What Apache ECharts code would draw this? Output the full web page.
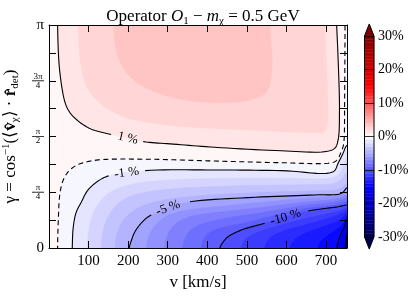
<!DOCTYPE html>
<html><head><meta charset="utf-8">
<script src="https://cdn.jsdelivr.net/npm/echarts@6/dist/echarts.min.js"></script>
<style>html,body{margin:0;padding:0;background:#fff}#c{width:417px;height:298px}</style>
</head><body><div id="c"></div>
<script>
// ---------------- data ----------------
// x: v [km/s], y: gamma / pi
const vMax = 753;
const yTickValues = [0, 0.25, 0.5, 0.75, 1];
const yTickLabels = ['0', 'π/4', 'π/2', '3π/4', 'π'];
const cbarTicks = [-30, -20, -10, 0, 10, 20, 30];

// superlevel curves (region above/inside is > level), level in %
const contour_p1 = [[21.7,1],[26.8,0.798],[41.2,0.649],[53.8,0.605],[70.7,0.574],[91.7,0.547],[112.6,0.529],[162.4,0.507],[238,0.477],[314,0.466],[419,0.4516],[587,0.436],[697,0.432],[722,0.447],[730.5,0.484],[734,0.619],[730,0.873],[727,1]];
const contour_p2 = [[74.7,1],[79,0.843],[96,0.723],[129.5,0.649],[188.4,0.589],[298,0.552],[508,0.529],[660,0.518],[695,0.52],[703,0.55],[704,0.7],[700,0.873],[697,1]];
const contour_p3 = [[163,1],[171.7,0.873],[197,0.783],[239,0.723],[323,0.671],[424,0.652],[508,0.664],[550,0.701],[563,0.798],[560.5,0.948],[559,1]];

// sublevel curves (region below/right is < level)
const contour_0   = [[21.7,0],[23.5,0.1256],[27.8,0.2466],[36.1,0.305],[48.7,0.342],[66.4,0.368],[82.3,0.380],[124.5,0.395],[250.7,0.398],[419,0.390],[587,0.3825],[705,0.380],[723,0.388],[730.5,0.402],[738,0.430],[743,0.454],[745.6,0.484],[747,0.664],[748,1]];
const contour_m1  = [[58.8,0],[61.4,0.0955],[68.9,0.161],[82.3,0.208],[96.7,0.256],[116,0.290],[137,0.314],[158,0.327],[243,0.347],[419,0.350],[587,0.347],[718,0.342],[730.5,0.380],[743,0.425],[753,0.46]];
const contour_m2  = [[97,0],[99,0.06],[105,0.12],[118,0.18],[140,0.23],[170,0.265],[220,0.29],[300,0.305],[450,0.313],[600,0.313],[700,0.312],[728,0.325],[742,0.36],[753,0.4]];
const contour_m3  = [[132,0],[134,0.05],[140,0.1],[152,0.15],[172,0.195],[200,0.228],[250,0.252],[350,0.27],[500,0.28],[650,0.284],[720,0.29],[740,0.31],[753,0.34]];
const contour_m4  = [[167,0],[170,0.05],[177,0.09],[190,0.13],[212,0.165],[245,0.195],[300,0.218],[400,0.237],[550,0.25],[680,0.257],[735,0.265],[753,0.29]];
const contour_m5  = [[202.8,0],[208.6,0.0359],[215.4,0.0673],[225.5,0.0955],[238,0.121],[250.7,0.140],[281,0.166],[343.4,0.203],[503,0.226],[671.6,0.238],[739,0.245],[753,0.27]];
const contour_m6  = [[246,0],[250,0.04],[260,0.08],[278,0.12],[305,0.15],[350,0.17],[450,0.19],[550,0.207],[650,0.222],[720,0.232],[753,0.247]];
const contour_m7  = [[292,0],[296,0.04],[306,0.08],[325,0.115],[355,0.14],[400,0.155],[450,0.165],[550,0.185],[650,0.207],[720,0.218],[753,0.234]];
const contour_m8  = [[338,0],[343,0.04],[355,0.075],[375,0.1],[410,0.12],[450,0.135],[550,0.162],[650,0.193],[720,0.205],[753,0.221]];
const contour_m9  = [[385,0],[390,0.035],[402,0.065],[425,0.085],[450,0.097],[500,0.115],[550,0.138],[650,0.178],[720,0.192],[753,0.207]];
const contour_m10 = [[431.8,0],[440,0.027],[452.6,0.0507],[486,0.0807],[545,0.111],[646,0.163],[730.5,0.185],[753,0.193]];
const contour_m11 = [[485,0],[490,0.025],[500,0.045],[520,0.065],[560,0.09],[620,0.12],[680,0.145],[730,0.165],[753,0.18]];
const contour_m12 = [[545,0],[550,0.025],[562,0.05],[590,0.075],[640,0.1],[690,0.125],[730,0.148],[753,0.168]];
const contour_m13 = [[610,0],[615,0.025],[630,0.05],[660,0.075],[700,0.1],[735,0.125],[753,0.155]];
const contour_m14 = [[680,0],[685,0.025],[700,0.05],[720,0.075],[740,0.1],[753,0.14]];
const contour_m15 = [[728,0],[731,0.03],[737,0.06],[745,0.09],[753,0.125]];
const contour_m16 = [[738,0],[741,0.04],[747,0.08],[753,0.11]];
const contour_m17 = [[743,0],[745,0.04],[749,0.075],[753,0.095]];
const contour_m18 = [[746,0],[748,0.035],[753,0.08]];
const contour_m20 = [[749,0],[751,0.03],[753,0.06]];
const contour_m25 = [[751,0],[752,0.02],[753,0.04]];

const labelTexts = ['1 %', '-1 %', '-5 %', '-10 %'];
const labelV = [199, 196, 301, 598];
const labelG = [0.492, 0.337, 0.179, 0.138];

// ---------------- build ----------------
const FONT = '"Liberation Serif", "Times New Roman", serif';
function seismic(t){
  const st=[[0,0,0,76.5],[0.25,0,0,255],[0.5,255,255,255],[0.75,255,0,0],[1,127.5,0,0]];
  t=Math.max(0,Math.min(1,t));
  for(let i=0;i<4;i++){
    if(t<=st[i+1][0]){
      const a=st[i],b=st[i+1],u=(t-a[0])/(b[0]-a[0]);
      return 'rgb('+[1,2,3].map(k=>Math.round(a[k]+(b[k]-a[k])*u)).join(',')+')';
    }
  }
  return 'rgb(127,0,0)';
}
function bandColor(lo,hi){ return seismic(((lo+hi)/2+30)/60); }

const fills = [{bg:true, lo:0, hi:1}];
[[1,contour_p1],[2,contour_p2],[3,contour_p3]].forEach(([L,p])=>fills.push({pts:p, lo:L, hi:L+1, kind:'pos'}));
[[0,contour_0],[-1,contour_m1],[-2,contour_m2],[-3,contour_m3],[-4,contour_m4],[-5,contour_m5],[-6,contour_m6],[-7,contour_m7],[-8,contour_m8],[-9,contour_m9],[-10,contour_m10],[-11,contour_m11],[-12,contour_m12],[-13,contour_m13],[-14,contour_m14],[-15,contour_m15],[-16,contour_m16],[-17,contour_m17],[-18,contour_m18],[-20,contour_m20],[-25,contour_m25]]
  .forEach(([L,p])=>fills.push({pts:p, lo:L-1, hi:L, kind:'neg'}));

const lines = [
  {pts:contour_p1, label:0},
  {pts:contour_0, dashed:true},
  {pts:contour_m1, label:1},
  {pts:contour_m5, label:2},
  {pts:contour_m10, label:3},
  {pts:contour_m15},
  {pts:contour_m20}
];

function edgeOut(p){
  if(p[1]<=0) return [p[0],-0.05];
  if(p[1]>=1) return [p[0],1.05];
  if(p[0]>=vMax) return [vMax+15,p[1]];
  return p;
}
function extend(pts){ const o=pts.slice(); o.unshift(edgeOut(pts[0])); o.push(edgeOut(pts[pts.length-1])); return o; }
function crSpline(P, seg){
  const out=[], n=P.length;
  const get=i=> i<0 ? [2*P[0][0]-P[1][0],2*P[0][1]-P[1][1]] : (i>=n ? [2*P[n-1][0]-P[n-2][0],2*P[n-1][1]-P[n-2][1]] : P[i]);
  const d=(a,b)=>Math.max(Math.pow(Math.hypot(b[0]-a[0],b[1]-a[1]),0.5),1e-3);
  for(let i=0;i<n-1;i++){
    const p0=get(i-1),p1=P[i],p2=P[i+1],p3=get(i+2);
    const t0=0,t1=t0+d(p0,p1),t2=t1+d(p1,p2),t3=t2+d(p2,p3);
    for(let k=0;k<seg;k++){
      const t=t1+(t2-t1)*k/seg;
      const L=(a,b,ta,tb)=>[(tb-t)/(tb-ta)*a[0]+(t-ta)/(tb-ta)*b[0],(tb-t)/(tb-ta)*a[1]+(t-ta)/(tb-ta)*b[1]];
      const A1=L(p0,p1,t0,t1),A2=L(p1,p2,t1,t2),A3=L(p2,p3,t2,t3);
      const B1=L(A1,A2,t0,t2),B2=L(A2,A3,t1,t3);
      out.push(L(B1,B2,t1,t2));
    }
  }
  out.push(P[n-1]);
  return out;
}

function renderFill(params, api){
  const f=fills[params.dataIndex];
  const cs=params.coordSys;
  const color=bandColor(f.lo,f.hi);
  if(f.bg) return {type:'rect', shape:{x:cs.x,y:cs.y,width:cs.width,height:cs.height}, style:{fill:color}};
  const d=crSpline(extend(f.pts).map(p=>api.coord(p)),10);
  const first=d[0], last=d[d.length-1];
  const top=cs.y-40, bot=cs.y+cs.height+40, right=cs.x+cs.width+40;
  if(f.kind==='pos'){ d.push([last[0],top],[first[0],top]); }
  else { if(f.pts[f.pts.length-1][1]>=1) d.push([right,top]); d.push([right,bot],[first[0],bot]); }
  return {type:'polygon', shape:{points:d}, style:{fill:color, stroke:color, lineWidth:0.5}};
}

function renderLine(params, api){
  const c=lines[params.dataIndex];
  const d=crSpline(extend(c.pts).map(p=>api.coord(p)),10);
  const children=[];
  let gc=null, r=0;
  if(c.label!=null){
    const txt=labelTexts[c.label];
    const lp=api.coord([labelV[c.label],labelG[c.label]]);
    let bi=0,bd=1e9;
    d.forEach((q,i)=>{const dd=Math.hypot(q[0]-lp[0],q[1]-lp[1]); if(dd<bd){bd=dd;bi=i;}});
    const a=d[Math.max(0,bi-4)], b=d[Math.min(d.length-1,bi+4)];
    const rot=-Math.atan2(b[1]-a[1],b[0]-a[0]);
    gc=lp; r=txt.length*3+6;
    children.push({type:'text', x:lp[0], y:lp[1], rotation:rot, z2:5,
      style:{text:txt, font:'13px '+FONT, fill:'#000', align:'center', verticalAlign:'middle', textAlign:'center', textVerticalAlign:'middle'}});
  }
  let run=[];
  const flush=()=>{ if(run.length>1) children.push({type:'polyline', shape:{points:run}, style:{stroke:'#000', lineWidth:1.1, fill:null, lineDash:c.dashed?[5,3.5]:null}}); run=[]; };
  d.forEach(q=>{ if(gc && Math.hypot(q[0]-gc[0],q[1]-gc[1])<r){ flush(); } else run.push(q); });
  flush();
  return {type:'group', children};
}

// colorbar
const cbBands=[]; for(let L=-30; L<30; L++) cbBands.push([L, L+1]);
function renderCbar(params, api){
  const i=params.dataIndex;
  if(i<cbBands.length){
    const [lo,hi]=cbBands[i];
    const p1=api.coord([0,hi]), p2=api.coord([1,lo]);
    const c=bandColor(lo,hi);
    return {type:'rect', shape:{x:p1[0],y:p1[1],width:p2[0]-p1[0],height:p2[1]-p1[1]}, style:{fill:c, stroke:c, lineWidth:0.4}};
  }
  const a=api.coord([0,30]), b=api.coord([1,30]), tA=api.coord([0.5,33.6]);
  const c=api.coord([0,-30]), e=api.coord([1,-30]), bA=api.coord([0.5,-33.6]);
  return {type:'group', children:[
    {type:'polygon', shape:{points:[a,tA,b]}, style:{fill:seismic(1), stroke:null}},
    {type:'polygon', shape:{points:[c,bA,e]}, style:{fill:seismic(0), stroke:null}},
    {type:'polygon', z2:10, shape:{points:[c,a,tA,b,e,bA]}, style:{fill:null, stroke:'#000', lineWidth:1}}
  ]};
}

function yFmt(v){
  const i=yTickValues.findIndex(t=>Math.abs(t-v)<1e-6);
  if(i<0) return '';
  const s=yTickLabels[i];
  if(s.indexOf('/')>=0){ const [n,dd]=s.split('/'); return '{n|'+n+'}\n{l|}\n{d|'+dd+'}'; }
  return '{m|'+s+'}';
}

const axisCommon = {
  z:10,
  axisLine:{show:true, onZero:false, lineStyle:{color:'#000', width:1}},
  axisTick:{show:true, inside:true, length:7, lineStyle:{color:'#000', width:1}},
  splitLine:{show:false}
};

const chart=echarts.init(document.getElementById('c'), null, {renderer:'canvas', width:417, height:298});
chart.setOption({
  animation:false,
  backgroundColor:'#fff',
  title:{
    text:'{t|Operator }{c|O}{s|1}{t| − }{i|m}{s|χ}{t| = 0.5 GeV}',
    left:198, top:2, textAlign:'center',
    textStyle:{fontWeight:'normal', rich:{
      t:{fontFamily:FONT, fontSize:17, fontWeight:'normal', color:'#000', lineHeight:20, verticalAlign:'middle'},
      c:{fontFamily:FONT, fontSize:17, fontWeight:'normal', fontStyle:'italic', color:'#000', lineHeight:20, verticalAlign:'middle'},
      i:{fontFamily:FONT, fontSize:17, fontWeight:'normal', fontStyle:'italic', color:'#000', lineHeight:20, verticalAlign:'middle'},
      s:{fontFamily:FONT, fontSize:11, fontWeight:'normal', color:'#000', lineHeight:11, verticalAlign:'bottom'}
    }}
  },
  grid:[
    {left:49, top:25, width:298, height:223, outerBoundsMode:'none', containLabel:false},
    {left:364.5, top:36, width:9.5, height:201, outerBoundsMode:'none', containLabel:false}
  ],
  xAxis:[
    Object.assign({}, axisCommon, {gridIndex:0, type:'value', min:0, max:vMax, interval:100, position:'bottom',
      axisLabel:{show:true, margin:6, color:'#000', fontFamily:FONT, fontSize:15, formatter:v=>v===0?'':String(v)},
      name:'v [km/s]', nameLocation:'middle', nameGap:23, nameTextStyle:{fontFamily:FONT, fontSize:17, color:'#000'}}),
    Object.assign({}, axisCommon, {gridIndex:0, type:'value', min:0, max:vMax, interval:100, position:'top', axisLabel:{show:false}}),
    {gridIndex:1, type:'value', min:0, max:1, show:false}
  ],
  yAxis:[
    Object.assign({}, axisCommon, {gridIndex:0, type:'value', min:0, max:1, interval:0.125, position:'left',
      axisLabel:{show:true, margin:5, color:'#000', formatter:yFmt, rich:{
        n:{fontFamily:FONT, fontSize:9, width:12, align:'center', lineHeight:9, color:'#000'},
        d:{fontFamily:FONT, fontSize:9, width:12, align:'center', lineHeight:9, color:'#000'},
        l:{width:12, height:0, borderColor:'#000', borderWidth:0.5},
        m:{fontFamily:FONT, fontSize:15, color:'#000'}
      }},
      name:'{t|γ = cos}{sup|−1}{t|(⟨}{b|v̂}{sub|χ}{t|⟩ · }{b|r̂}{sub|det}{t|)}',
      nameLocation:'middle', nameGap:21, nameRotate:90,
      nameTextStyle:{rich:{
        t:{fontFamily:FONT, fontSize:17, color:'#000', lineHeight:20, verticalAlign:'middle'},
        b:{fontFamily:FONT, fontSize:17, fontWeight:'bold', color:'#000', lineHeight:20, verticalAlign:'middle'},
        sup:{fontFamily:FONT, fontSize:11, color:'#000', lineHeight:11, verticalAlign:'top'},
        sub:{fontFamily:FONT, fontSize:11, color:'#000', lineHeight:11, verticalAlign:'bottom'}
      }}}),
    Object.assign({}, axisCommon, {gridIndex:0, type:'value', min:0, max:1, interval:0.125, position:'right', axisLabel:{show:false}}),
    {gridIndex:1, type:'value', min:-30, max:30, interval:10, position:'right', z:10,
      axisLine:{show:false}, axisTick:{show:false},
      splitLine:{show:true, lineStyle:{color:'#000', width:1, opacity:0.8}},
      axisLabel:{show:true, margin:4, color:'#000', fontFamily:FONT, fontSize:14,
        formatter:v=>cbarTicks.indexOf(v)>=0 ? v+'%' : ''}}
  ],
  series:[
    {type:'custom', xAxisIndex:0, yAxisIndex:0, coordinateSystem:'cartesian2d', clip:true, silent:true,
      data:fills.map((_,i)=>[0,0]), renderItem:renderFill, z:2},
    {type:'custom', xAxisIndex:0, yAxisIndex:0, coordinateSystem:'cartesian2d', clip:true, silent:true,
      data:lines.map((_,i)=>[0,0]), renderItem:renderLine, z:3},
    {type:'custom', xAxisIndex:2, yAxisIndex:2, coordinateSystem:'cartesian2d', clip:false, silent:true,
      data:cbBands.map(()=>[0,0]).concat([[0,0]]), renderItem:renderCbar, z:2}
  ]
});
</script></body></html>
